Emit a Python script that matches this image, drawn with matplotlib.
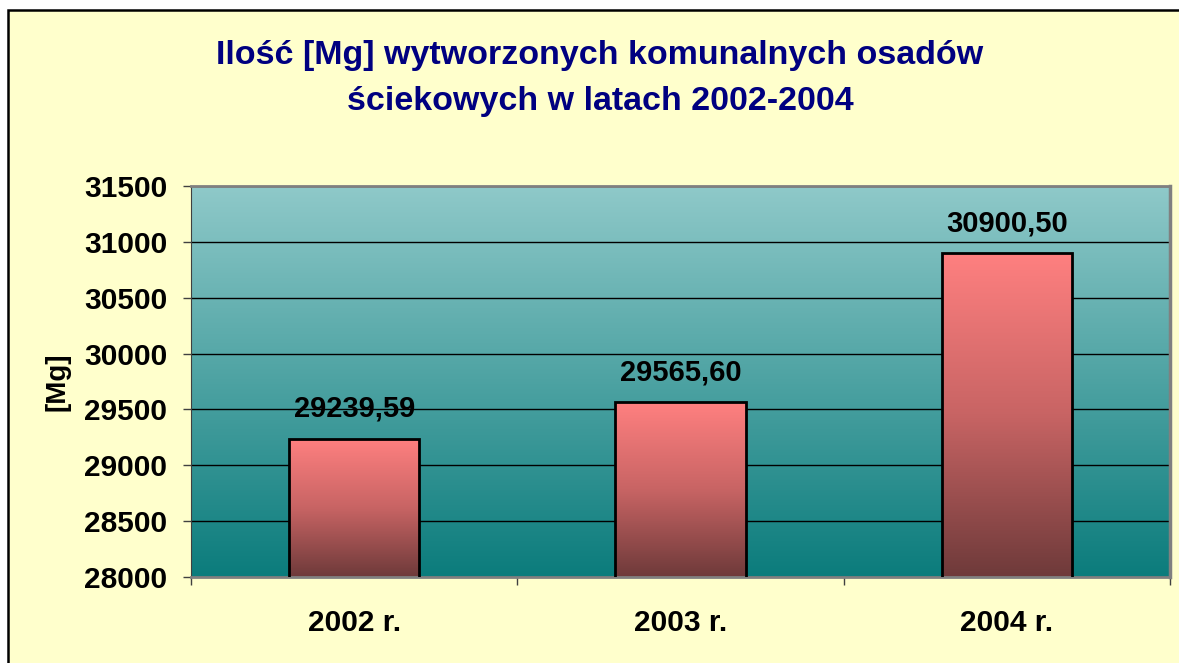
import numpy as np
import matplotlib.pyplot as plt
from matplotlib.colors import LinearSegmentedColormap
from matplotlib.patches import Rectangle

categories = ['2002 r.', '2003 r.', '2004 r.']
values = [29239.59, 29565.60, 30900.50]
value_labels = ['29239,59', '29565,60', '30900,50']
y_ticks = [28000, 28500, 29000, 29500, 30000, 30500, 31000, 31500]

title_1 = 'Ilość [Mg] wytworzonych komunalnych osadów'
title_2 = 'ściekowych w latach 2002-2004'

plt.rcParams['font.family'] = ['Liberation Sans', 'DejaVu Sans']
plt.rcParams['font.weight'] = 'bold'

W, H = 1179, 663
fig = plt.figure(figsize=(W / 100, H / 100), dpi=100, facecolor='white')

# yellow chart area with black frame on left/top
fig.patches.append(Rectangle((8 / W, -0.1), 1.2, 1 - 10 / H + 0.1, transform=fig.transFigure,
                             facecolor='#FFFFCC', edgecolor='black', linewidth=1.8, zorder=-5))

ax = fig.add_axes([191 / W, (H - 577) / H, (1170 - 191) / W, (577 - 186) / H])
ax.set_zorder(2)
ax.set_facecolor('none')

# background gradient of the plot area
bg_cmap = LinearSegmentedColormap.from_list('bg', ['#0B7C7C', '#8FC9C9'])
grad = np.linspace(0, 1, 256).reshape(-1, 1)
ax.imshow(grad, cmap=bg_cmap, extent=[0, 1, 0, 1], transform=ax.transAxes,
          aspect='auto', origin='lower', zorder=0)

ax.set_ylim(28000, 31500)
ax.set_xlim(-0.5, 2.5)
ax.set_yticks(y_ticks)
ax.set_yticklabels([str(t) for t in y_ticks])
ax.yaxis.grid(True, color='black', linewidth=1.0, zorder=1)
ax.set_axisbelow(True)

x = np.arange(len(categories))
bars = ax.bar(x, values, width=0.4, bottom=0, facecolor='none', edgecolor='black',
              linewidth=2.0, zorder=3)

bar_cmap = LinearSegmentedColormap.from_list('bar', ['#6E3A3A', '#C86464', '#FF8080'])
for b in bars:
    x0 = b.get_x()
    img = ax.imshow(grad, cmap=bar_cmap, extent=[x0, x0 + b.get_width(), 28000, b.get_height()],
                    aspect='auto', origin='lower', zorder=2)
    img.set_clip_path(b)

ax.set_xlim(-0.5, 2.5)
ax.set_ylim(28000, 31500)

for xi, v, lab in zip(x, values, value_labels):
    ax.annotate(lab, (xi, v), xytext=(0, 15.5), textcoords='offset points',
                ha='center', va='baseline', fontsize=21, fontweight='bold', color='black')

# category ticks at boundaries, labels at centers
ax.set_xticks([-0.5, 0.5, 1.5, 2.5])
ax.set_xticklabels([])
ax.set_xticks(x, minor=True)
ax.set_xticklabels(categories, minor=True)
ax.tick_params(axis='x', which='major', length=6, width=1, color='#404040', direction='out')
ax.tick_params(axis='x', which='minor', length=0, pad=23, labelsize=21.5)
ax.tick_params(axis='y', length=6, width=1, color='#404040', pad=11, labelsize=21.5)
for t in ax.get_xticklabels(minor=True) + ax.get_yticklabels():
    t.set_fontweight('bold')

ax.spines['left'].set_color('#404040')
ax.spines['bottom'].set_color('#808080')
ax.spines['bottom'].set_linewidth(2)
ax.spines['top'].set_color('#808080')
ax.spines['top'].set_linewidth(2)
ax.spines['right'].set_color('#808080')
ax.spines['right'].set_linewidth(2.5)

fig.text(57 / W, 1 - 382 / H, '[Mg]', rotation=90, ha='center', va='center',
         fontsize=20, fontweight='bold', color='black')

fig.text(600 / W, 1 - 64 / H, title_1, ha='center', va='baseline',
         fontsize=24.5, fontweight='bold', color='#000080')
fig.text(600 / W, 1 - 110 / H, title_2, ha='center', va='baseline',
         fontsize=24.5, fontweight='bold', color='#000080')

fig.savefig('out.png', dpi=100, facecolor=fig.get_facecolor())
